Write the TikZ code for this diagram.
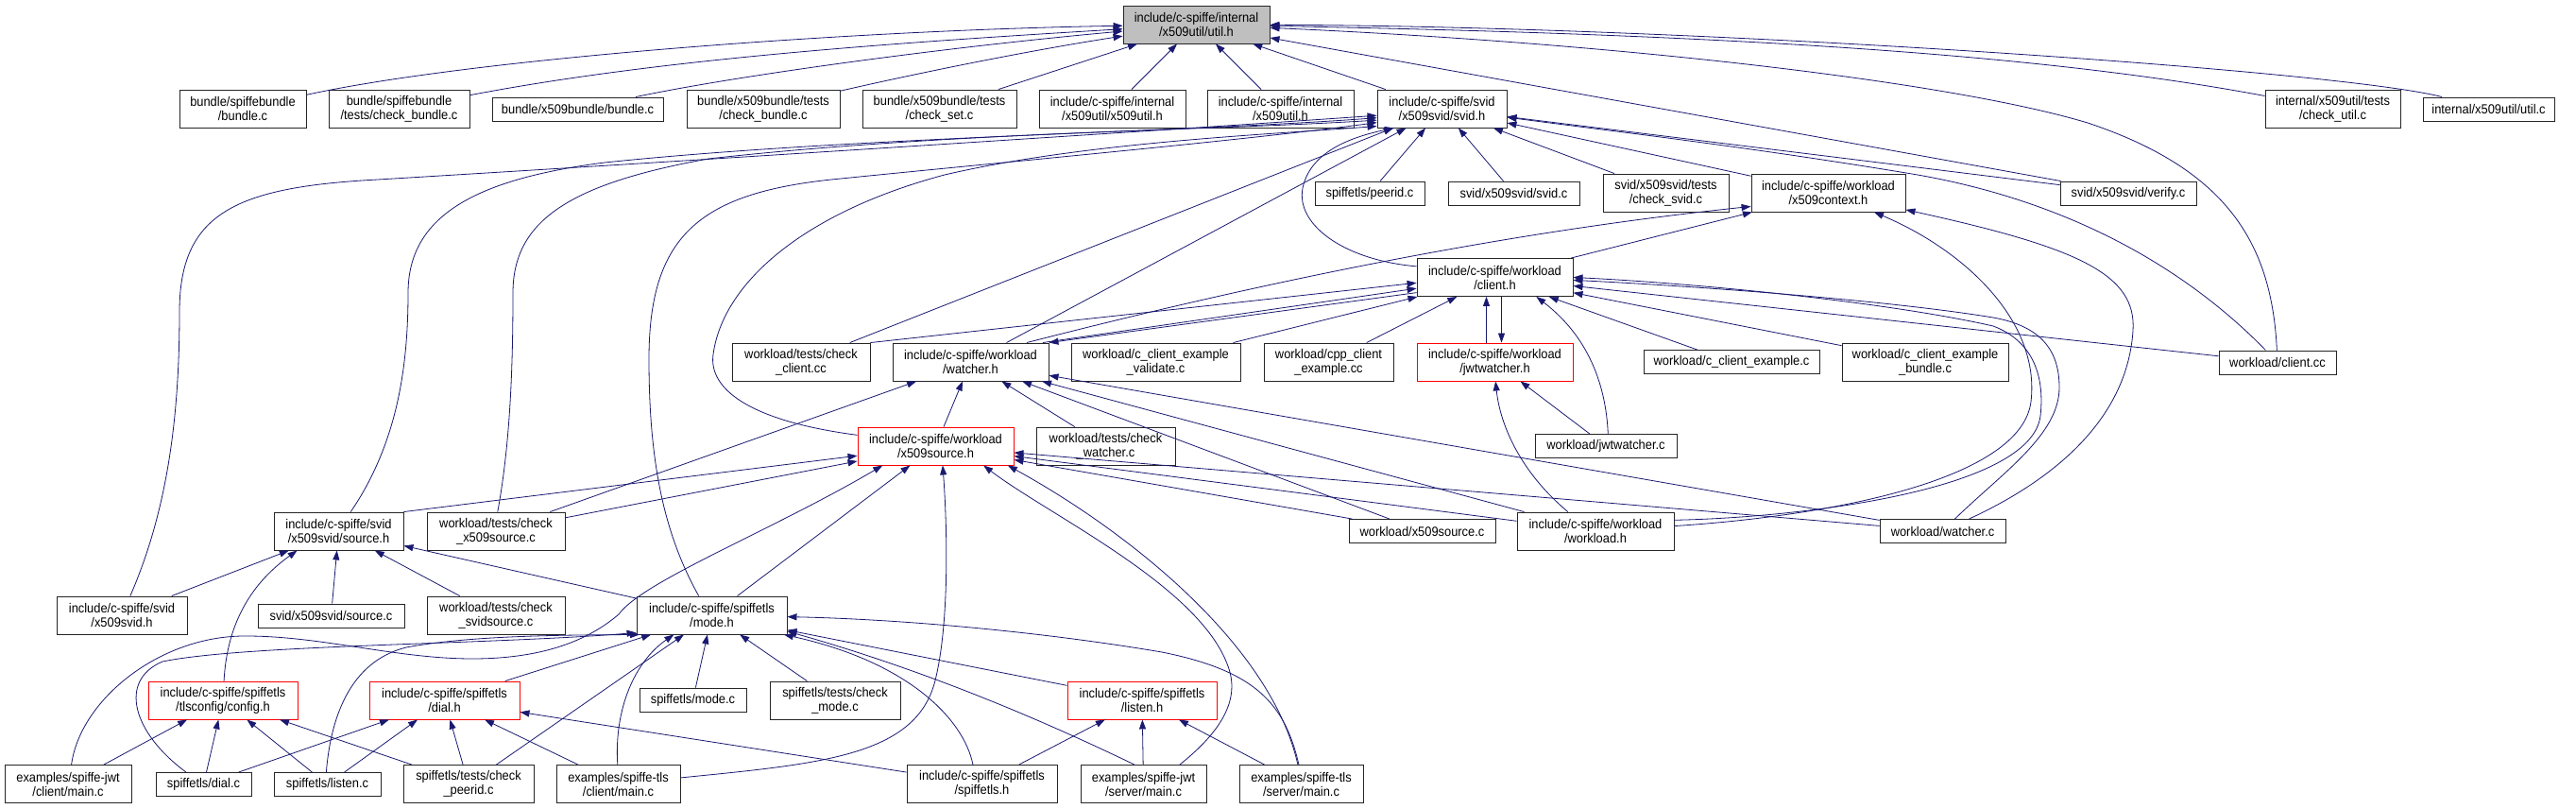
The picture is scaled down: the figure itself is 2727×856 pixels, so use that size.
\documentclass[tikz,border=0pt]{standalone}
\usepackage{fontspec}
\setmainfont{Liberation Sans}[FakeStretch=0.92]
\usetikzlibrary{arrows.meta}
\definecolor{edgeblue}{HTML}{191970}
\definecolor{focusgrey}{HTML}{BFBFBF}

\begin{document}
\begin{tikzpicture}[x=1pt, y=-1pt, >={Triangle[length=10pt, width=7pt]},
  filebox/.style={draw=black!85, fill=white, line width=0.9pt, align=center,
    inner sep=0pt, minimum height=40pt, font=\fontsize{14}{15}\selectfont},
  linebox/.style={filebox, minimum height=25pt},
  partial/.style={draw=red},
  focus/.style={fill=focusgrey},
  incl/.style={->, draw=edgeblue, line width=0.8pt}]
  \useasboundingbox (0,0) rectangle (2727,856);

  \node[filebox, focus, minimum width=155] (util) at (1266.5,26) {include/c-spiffe/internal\\/x509util/util.h};

  \node[filebox, minimum width=134] (sbbundle) at (257,115) {bundle/spiffebundle\\/bundle.c};
  \node[filebox, minimum width=149] (sbcheck) at (422.5,115) {bundle/spiffebundle\\/tests/check\_bundle.c};
  \node[linebox, minimum width=181] (xbbundle) at (611.5,115.5) {bundle/x509bundle/bundle.c};
  \node[filebox, minimum width=162] (xbcheck) at (808,115) {bundle/x509bundle/tests\\/check\_bundle.c};
  \node[filebox, minimum width=163] (xbset) at (994.5,115) {bundle/x509bundle/tests\\/check\_set.c};
  \node[filebox, minimum width=155] (x509utilh) at (1177.5,115) {include/c-spiffe/internal\\/x509util/x509util.h};
  \node[filebox, minimum width=155] (intx509h) at (1355.5,115) {include/c-spiffe/internal\\/x509util.h};
  \node[filebox, minimum width=137] (svidh) at (1526.5,115) {include/c-spiffe/svid\\/x509svid/svid.h};
  \node[filebox, minimum width=143] (checkutil) at (2469.5,115) {internal/x509util/tests\\/check\_util.c};
  \node[linebox, minimum width=139] (utilc) at (2634.5,115.5) {internal/x509util/util.c};

  \node[linebox, minimum width=116] (peerid) at (1450,204.5) {spiffetls/peerid.c};
  \node[linebox, minimum width=139] (svidc) at (1602.5,204.5) {svid/x509svid/svid.c};
  \node[filebox, minimum width=133] (checksvid) at (1763.5,204) {svid/x509svid/tests\\/check\_svid.c};
  \node[filebox, minimum width=163] (ctxh) at (1935.5,204) {include/c-spiffe/workload\\/x509context.h};
  \node[linebox, minimum width=144] (verifyc) at (2253,204.5) {svid/x509svid/verify.c};

  \node[filebox, minimum width=165] (clienth) at (1582.5,293.5) {include/c-spiffe/workload\\/client.h};

  \node[filebox, minimum width=146] (checkclient) at (848,383) {workload/tests/check\\\_client.cc};
  \node[filebox, minimum width=165] (watcherh) at (1027.5,383) {include/c-spiffe/workload\\/watcher.h};
  \node[filebox, minimum width=179] (validate) at (1223.5,383) {workload/c\_client\_example\\\_validate.c};
  \node[filebox, minimum width=137] (cppex) at (1406.5,383) {workload/cpp\_client\\\_example.cc};
  \node[filebox, partial, minimum width=165] (jwtwh) at (1582.5,383) {include/c-spiffe/workload\\/jwtwatcher.h};
  \node[linebox, minimum width=186] (cex) at (1833,383) {workload/c\_client\_example.c};
  \node[filebox, minimum width=176] (cexbundle) at (2038,383) {workload/c\_client\_example\\\_bundle.c};
  \node[linebox, minimum width=124] (clientcc) at (2411,383.5) {workload/client.cc};

  \node[filebox, partial, minimum width=165] (x509srch) at (990.5,472) {include/c-spiffe/workload\\/x509source.h};
  \node[filebox, minimum width=147] (checkwatcher) at (1170.5,472) {workload/tests/check\\\_watcher.c};
  \node[linebox, minimum width=150] (jwtwc) at (1700,472) {workload/jwtwatcher.c};

  \node[filebox, minimum width=137] (sourceh) at (358.5,562) {include/c-spiffe/svid\\/x509svid/source.h};
  \node[filebox, minimum width=146] (checkx509src) at (525,562) {workload/tests/check\\\_x509source.c};
  \node[linebox, minimum width=155] (x509srcc) at (1505.5,562) {workload/x509source.c};
  \node[filebox, minimum width=166] (workloadh) at (1689,562) {include/c-spiffe/workload\\/workload.h};
  \node[linebox, minimum width=133] (watcherc) at (2056.5,562) {workload/watcher.c};

  \node[filebox, minimum width=138] (x509svidh) at (129,651) {include/c-spiffe/svid\\/x509svid.h};
  \node[linebox, minimum width=155] (sourcec) at (350.5,651.5) {svid/x509svid/source.c};
  \node[filebox, minimum width=146] (checksvidsrc) at (525,651) {workload/tests/check\\\_svidsource.c};
  \node[filebox, minimum width=159] (modeh) at (753.5,651) {include/c-spiffe/spiffetls\\/mode.h};

  \node[filebox, partial, minimum width=158] (configh) at (236,741) {include/c-spiffe/spiffetls\\/tlsconfig/config.h};
  \node[filebox, partial, minimum width=159] (dialh) at (470.5,741) {include/c-spiffe/spiffetls\\/dial.h};
  \node[linebox, minimum width=113] (modec) at (733.5,740.5) {spiffetls/mode.c};
  \node[filebox, minimum width=138] (checkmode) at (884,741) {spiffetls/tests/check\\\_mode.c};
  \node[filebox, partial, minimum width=158] (listenh) at (1209,741) {include/c-spiffe/spiffetls\\/listen.h};

  \node[filebox, minimum width=134] (jwtclient) at (72,829.5) {examples/spiffe-jwt\\/client/main.c};
  \node[linebox, minimum width=101] (dialc) at (215.5,830) {spiffetls/dial.c};
  \node[linebox, minimum width=113] (listenc) at (346.5,830) {spiffetls/listen.c};
  \node[filebox, minimum width=138] (checkpeerid) at (496,829.5) {spiffetls/tests/check\\\_peerid.c};
  \node[filebox, minimum width=131] (tlsclient) at (654.5,829.5) {examples/spiffe-tls\\/client/main.c};
  \node[filebox, minimum width=159] (spiffetlsh) at (1039.5,829.5) {include/c-spiffe/spiffetls\\/spiffetls.h};
  \node[filebox, minimum width=133] (jwtserver) at (1210.5,829.5) {examples/spiffe-jwt\\/server/main.c};
  \node[filebox, minimum width=131] (tlsserver) at (1377.5,829.5) {examples/spiffe-tls\\/server/main.c};

  % util.h
  \draw[incl] (sbbundle) .. controls (500,62) and (900,32) .. (util);
  \draw[incl] (sbcheck) .. controls (700,62) and (950,45) .. (util);
  \draw[incl] (xbbundle) .. controls (780,80) and (1000,50) .. (util);
  \draw[incl] (xbcheck) .. controls (960,80) and (1080,55) .. (util);
  \draw[incl] (xbset) -- (util);
  \draw[incl] (x509utilh) -- (util);
  \draw[incl] (intx509h) -- (util);
  \draw[incl] (svidh) -- (util);
  \draw[incl] (checkutil) .. controls (2150,55) and (1800,36) .. (util);
  \draw[incl] (utilc) .. controls (2480,75) and (1800,28) .. (util);
  \draw[incl] (clientcc) .. controls (2405,260) and (2360,180) .. (2210,130)
    .. controls (2060,85) and (1700,45) .. (util);
  \draw[incl] (verifyc) -- (util);

  % svid.h
  \draw[incl] (x509svidh) .. controls (175,545) and (190,450) .. (190,330)
    .. controls (190,225) and (250,198) .. (400,190)
    .. controls (700,172) and (1200,140) .. (svidh.186);
  \draw[incl] (sourceh.58) .. controls (420,470) and (432,390) .. (432,310)
    .. controls (432,230) and (500,190) .. (640,172)
    .. controls (900,145) and (1250,140) .. (svidh.188);
  \draw[incl] (checkx509src.85) .. controls (540,470) and (543,390) .. (543,310)
    .. controls (543,235) and (600,195) .. (750,168)
    .. controls (1000,140) and (1280,138) .. (svidh.190);
  \draw[incl] (modeh.124) .. controls (700,560) and (687,480) .. (687,380)
    .. controls (687,250) and (740,205) .. (880,190)
    .. controls (1100,168) and (1320,148) .. (svidh.192);
  \draw[incl] (x509srch.172) .. controls (790,445) and (750,410) .. (755,375)
    .. controls (765,300) and (850,225) .. (1000,185)
    .. controls (1150,150) and (1350,142) .. (svidh.195);
  \draw[incl] (checkclient) -- (svidh);
  \draw[incl] (watcherh) -- (svidh);
  \draw[incl] (clienth.172) .. controls (1420,275) and (1368,235) .. (1380,195)
    .. controls (1390,160) and (1430,145) .. (svidh.202);
  \draw[incl] (peerid) -- (svidh);
  \draw[incl] (svidc) -- (svidh);
  \draw[incl] (checksvid) -- (svidh);
  \draw[incl] (ctxh) -- (svidh);
  \draw[incl] (verifyc) -- (svidh);
  \draw[incl] (clientcc) .. controls (2320,290) and (2200,215) .. (2030,185)
    .. controls (1850,155) and (1700,138) .. (svidh);

  % x509context.h
  \draw[incl] (clienth) -- (ctxh);
  \draw[incl] (watcherh.19) .. controls (1350,295) and (1600,245) .. (ctxh.190);
  \draw[incl] (workloadh) .. controls (1950,545) and (2140,505) .. (2150,425)
    .. controls (2160,340) and (2080,265) .. (ctxh);
  \draw[incl] (watcherc) .. controls (2180,505) and (2252,440) .. (2258,350)
    .. controls (2262,290) and (2200,262) .. (ctxh);

  % client.h
  \draw[incl] (checkclient.north east) -- (clienth.184);
  \draw[incl] (watcherh.15) -- (clienth.188);
  \draw[incl] (clienth.191) -- (watcherh.north east);
  \draw[incl] (validate) -- (clienth);
  \draw[incl] (cppex) -- (clienth);
  \draw[incl] ([xshift=-9]jwtwh.north) -- ([xshift=-9]clienth.south);
  \draw[incl] ([xshift=7]clienth.south) -- ([xshift=7]jwtwh.north);
  \draw[incl] (cex) -- (clienth);
  \draw[incl] (cexbundle) -- (clienth);
  \draw[incl] (clientcc) -- (clienth);
  \draw[incl] (jwtwc.80) .. controls (1700,405) and (1680,355) .. (clienth.335);
  \draw[incl] (workloadh.8) .. controls (1900,548) and (2150,520) .. (2160,440)
    .. controls (2165,395) and (2150,360) .. (2110,345)
    .. controls (2000,320) and (1800,300) .. (clienth.0);
  \draw[incl] (watcherc.45) .. controls (2120,500) and (2180,460) .. (2180,410)
    .. controls (2180,370) and (2160,345) .. (2110,336)
    .. controls (2000,318) and (1800,303) .. (clienth.358);

  % watcher.h
  \draw[incl] (checkx509src) -- (watcherh);
  \draw[incl] (x509srch) -- (watcherh);
  \draw[incl] (checkwatcher) -- (watcherh);
  \draw[incl] (x509srcc) -- (watcherh);
  \draw[incl] (workloadh) -- (watcherh);
  \draw[incl] (watcherc) -- (watcherh);

  % jwtwatcher.h
  \draw[incl] (workloadh.145) .. controls (1610,500) and (1588,450) .. (jwtwh.272);
  \draw[incl] (jwtwc) -- (jwtwh);

  % x509source.h
  \draw[incl] (sourceh.north east) -- (x509srch);
  \draw[incl] (checkx509src) -- (x509srch);
  \draw[incl] (modeh) -- (x509srch);
  \draw[incl] (jwtclient.80) .. controls (85,740) and (170,672) .. (261,673)
    .. controls (340,673) and (420,697) .. (500,697)
    .. controls (570,697) and (620,680) .. (655,650)
    .. controls (680,615) and (820,560) .. (x509srch.200);
  \draw[incl] (tlsclient) .. controls (870,808) and (970,800) .. (990,720)
    .. controls (1005,660) and (1003,560) .. (x509srch.290);
  \draw[incl] (jwtserver.28) .. controls (1285,780) and (1315,745) .. (1300,705)
    .. controls (1270,620) and (1110,545) .. (x509srch.338);
  \draw[incl] (tlsserver.100) .. controls (1345,680) and (1190,560) .. (x509srch.345);
  \draw[incl] (x509srcc) -- (x509srch);
  \draw[incl] (workloadh) -- (x509srch);
  \draw[incl] (watcherc) -- (x509srch);

  % source.h
  \draw[incl] (x509svidh) -- (sourceh);
  \draw[incl] (configh) .. controls (240,665) and (262,620) .. (sourceh.205);
  \draw[incl] (sourcec) -- (sourceh);
  \draw[incl] (checksvidsrc) -- (sourceh);
  \draw[incl] (modeh) -- (sourceh);

  % mode.h
  \draw[incl] (dialh) -- (modeh);
  \draw[incl] (checkpeerid) -- (modeh);
  \draw[incl] (tlsclient.92) .. controls (650,750) and (672,700) .. (modeh.207);
  \draw[incl] (modec) -- (modeh);
  \draw[incl] (checkmode) -- (modeh);
  \draw[incl] (listenh) -- (modeh);
  \draw[incl] (spiffetlsh.115) .. controls (1020,760) and (960,700) .. (modeh.345);
  \draw[incl] (jwtserver.115) .. controls (1130,775) and (1000,715) .. (modeh.348);
  \draw[incl] (tlsserver.97) .. controls (1360,745) and (1330,710) .. (1230,690)
    .. controls (1100,668) and (950,655) .. (modeh);
  \draw[incl] (dialc.145) .. controls (140,775) and (125,720) .. (172,700)
    .. controls (260,682) and (520,682) .. (modeh.193);
  \draw[incl] (listenc.95) .. controls (350,760) and (370,700) .. (430,685)
    .. controls (500,672) and (600,672) .. (modeh.195);

  % config.h, dial.h, listen.h
  \draw[incl] (jwtclient) -- (configh);
  \draw[incl] (dialc) -- (configh);
  \draw[incl] (listenc) -- (configh);
  \draw[incl] (checkpeerid) -- (configh);
  \draw[incl] (dialc) -- (dialh);
  \draw[incl] (listenc) -- (dialh);
  \draw[incl] (checkpeerid) -- (dialh);
  \draw[incl] (tlsclient) -- (dialh);
  \draw[incl] (spiffetlsh) -- (dialh);
  \draw[incl] (spiffetlsh) -- (listenh);
  \draw[incl] (jwtserver) -- (listenh);
  \draw[incl] (tlsserver) -- (listenh);
\end{tikzpicture}
\end{document}
